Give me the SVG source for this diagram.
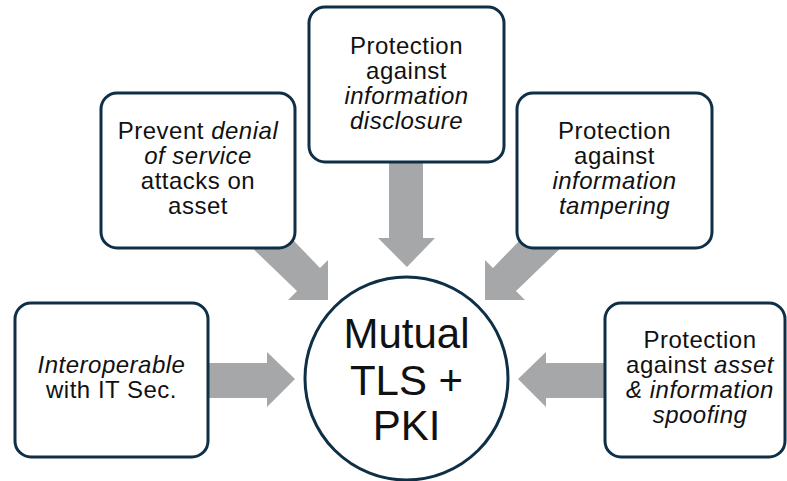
<svg xmlns="http://www.w3.org/2000/svg" width="787" height="481" viewBox="0 0 787 481">
  <style>
    .box { fill: #ffffff; stroke: #0f2f47; stroke-width: 3; }
    .hub { fill: #ffffff; stroke: #0f2f47; stroke-width: 3; }
    .arrow { fill: #a6a7a9; }
    .lbl { font-family: "Liberation Sans", Arial, sans-serif; font-size: 24px; letter-spacing: 0.5px; fill: #111111; text-anchor: middle; }
    .hubtxt { font-family: "Liberation Sans", Arial, sans-serif; font-size: 42px; fill: #111111; text-anchor: middle; }
    .em { font-style: italic; }
  </style>

  <!-- block arrows pointing at the hub -->
  <g id="connectors">
    <!-- from top box -->
    <polygon class="arrow" points="389,150 423,150 423,238 435,238 407,267 378,238 389,238"/>
    <!-- from upper-left box (45 degrees) -->
    <polygon class="arrow" points="245,241 270,216 320,268 328,260 328,300 288,300 297,291"/>
    <!-- from upper-right box (45 degrees) -->
    <polygon class="arrow" points="568,241 543,216 493,268 485,260 485,300 525,300 516,291"/>
    <!-- from lower-left box -->
    <polygon class="arrow" points="200,363 267,363 267,352 295,379 267,407 267,398 200,398"/>
    <!-- from lower-right box -->
    <polygon class="arrow" points="615,363 546,363 546,352 518,379 546,407 546,398 615,398"/>
  </g>

  <g id="node-disclosure">
    <rect class="box" x="309" y="7" width="195" height="155" rx="16"/>
    <text class="lbl" x="406.5" y="54">Protection</text>
    <text class="lbl" x="406.5" y="79">against</text>
    <text class="lbl em" x="406.5" y="104">information</text>
    <text class="lbl em" x="406.5" y="129">disclosure</text>
  </g>

  <g id="node-dos">
    <rect class="box" x="101" y="93" width="194" height="155" rx="16"/>
    <text class="lbl" x="198" y="139">Prevent <tspan class="em">denial</tspan></text>
    <text class="lbl em" x="198" y="164">of service</text>
    <text class="lbl" x="198" y="189">attacks on</text>
    <text class="lbl" x="198" y="214">asset</text>
  </g>

  <g id="node-tampering">
    <rect class="box" x="517" y="93" width="195" height="155" rx="16"/>
    <text class="lbl" x="614.5" y="139">Protection</text>
    <text class="lbl" x="614.5" y="164">against</text>
    <text class="lbl em" x="614.5" y="189">information</text>
    <text class="lbl em" x="614.5" y="214">tampering</text>
  </g>

  <g id="node-interop">
    <rect class="box" x="15" y="303" width="193" height="154" rx="16"/>
    <text class="lbl em" x="111.5" y="373">Interoperable</text>
    <text class="lbl" x="111.5" y="398">with IT Sec.</text>
  </g>

  <g id="node-spoofing">
    <rect class="box" x="605" y="303" width="180" height="154" rx="16"/>
    <text class="lbl" x="700" y="348">Protection</text>
    <text class="lbl" x="700" y="373">against <tspan class="em">asset</tspan></text>
    <text class="lbl em" x="700" y="398">&amp; information</text>
    <text class="lbl em" x="700" y="423">spoofing</text>
  </g>

  <g id="node-hub">
    <circle class="hub" cx="406.5" cy="378.5" r="101.5"/>
    <text class="hubtxt" x="406.5" y="348">Mutual</text>
    <text class="hubtxt" x="406.5" y="395">TLS +</text>
    <text class="hubtxt" x="406.5" y="440">PKI</text>
  </g>
</svg>
